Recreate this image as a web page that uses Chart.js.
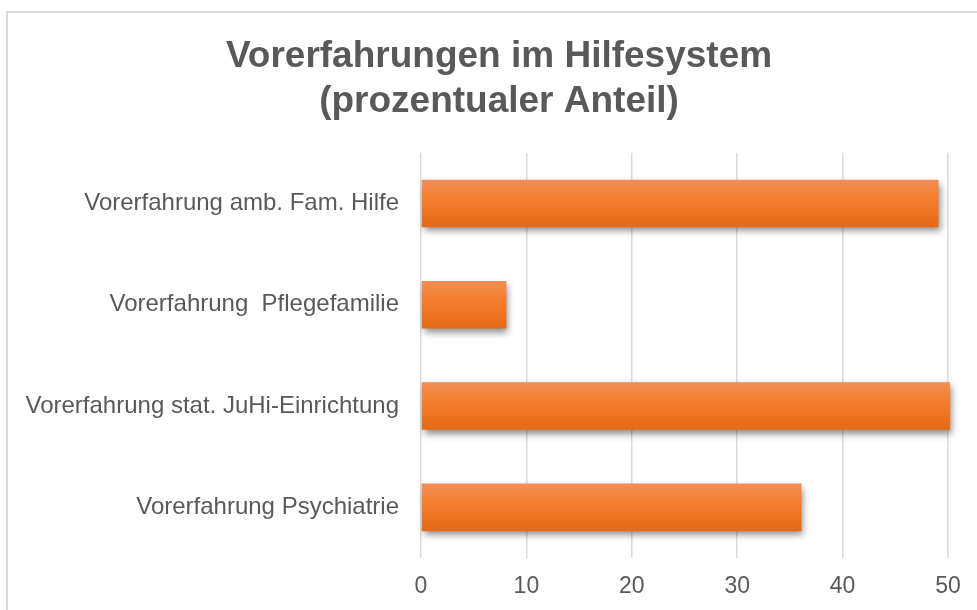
<!DOCTYPE html>
<html>
<head>
<meta charset="utf-8">
<script src="https://cdn.jsdelivr.net/npm/chart.js@4"></script>
<style>
  html, body { margin: 0; padding: 0; background: #fff; overflow: hidden; }
  #frame {
    position: absolute; left: 6px; top: 11px;
    width: 990px; height: 640px;
    border: 2px solid #d9d9d9; box-sizing: border-box;
  }
  #chart { position: absolute; left: 0; top: 0; }
</style>
</head>
<body>
<div id="frame"></div>
<canvas id="chart" width="977" height="610"></canvas>
<script>
// chart data
const titleLines = ['Vorerfahrungen im Hilfesystem', '(prozentualer Anteil)'];
const categories = [
    'Vorerfahrung amb. Fam. Hilfe',
    'Vorerfahrung  Pflegefamilie',
    'Vorerfahrung stat. JuHi-Einrichtung',
    'Vorerfahrung Psychiatrie'
];
const shares = [49.1, 8.1, 50.2, 36.1];
const xTicks = [0, 10, 20, 30, 40, 50];

const textColor = '#595959';
const gridColor = '#d9d9d9';
const fontFamily = '"Liberation Sans", Arial, sans-serif';
const barFill = 0.47;

// orange bar with a soft vertical gradient, like the office theme
function barGradient(context) {
    const chart = context.chart;
    const y = chart.scales.y;
    if (!chart.chartArea || !y || context.dataIndex === undefined) {
        return '#f47d2e';
    }
    const center = y.getPixelForValue(context.dataIndex);
    const half = (y.height / categories.length) * barFill / 2;
    const g = chart.ctx.createLinearGradient(0, center - half, 0, center + half);
    g.addColorStop(0, 'rgb(241, 142, 86)');
    g.addColorStop(0.4, 'rgb(244, 126, 46)');
    g.addColorStop(1, 'rgb(229, 105, 22)');
    return g;
}

// drop shadow under the bars
const barShadow = {
    id: 'barShadow',
    beforeDatasetsDraw(chart) {
        const ctx = chart.ctx;
        ctx.save();
        ctx.shadowColor = 'rgba(0, 0, 0, 0.45)';
        ctx.shadowBlur = 7;
        ctx.shadowOffsetX = 2;
        ctx.shadowOffsetY = 4;
    },
    afterDatasetsDraw(chart) {
        chart.ctx.restore();
    }
};

// the title sits centred on the whole frame, not on the plot
const titleShift = {
    id: 'titleShift',
    afterLayout(chart) {
        const t = chart.titleBlock;
        if (t) {
            t.left += 25;
            t.right += 25;
        }
    }
};

function createChart() {
    const ctx = document.getElementById('chart').getContext('2d');

    return new Chart(ctx, {
        type: 'bar',
        data: {
            labels: categories,
            datasets: [{
                data: shares,
                backgroundColor: barGradient,
                borderWidth: 0,
                barPercentage: barFill,
                categoryPercentage: 1,
                clip: false
            }]
        },
        options: {
            indexAxis: 'y',
            responsive: false,
            animation: false,
            layout: {
                padding: { left: 0, right: 29, top: 0, bottom: 0 }
            },
            scales: {
                x: {
                    min: 0,
                    max: 50,
                    afterBuildTicks: (scale) => {
                        scale.ticks = xTicks.map(v => ({ value: v }));
                    },
                    afterFit: (scale) => { scale.height = 52; },
                    grid: {
                        color: gridColor,
                        lineWidth: 1.5,
                        drawTicks: false
                    },
                    border: { display: false },
                    ticks: {
                        color: textColor,
                        padding: 15,
                        font: { family: fontFamily, size: 23 }
                    }
                },
                y: {
                    afterFit: (scale) => { scale.width = 421; },
                    grid: { display: false, drawTicks: false },
                    border: { display: false },
                    ticks: {
                        color: textColor,
                        padding: 22,
                        font: { family: fontFamily, size: 24 }
                    }
                }
            },
            plugins: {
                legend: { display: false },
                tooltip: { enabled: false },
                title: {
                    display: true,
                    text: titleLines,
                    color: textColor,
                    font: {
                        family: fontFamily,
                        size: 37,
                        weight: 'bold',
                        lineHeight: 1.2
                    },
                    padding: { top: 35, bottom: 29 }
                }
            }
        },
        plugins: [barShadow, titleShift]
    });
}

createChart();
</script>
</body>
</html>
